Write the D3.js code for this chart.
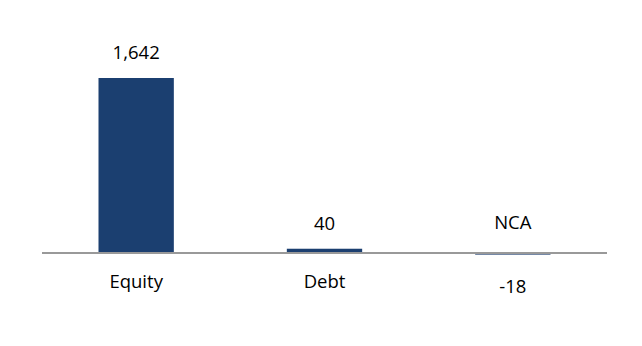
<!DOCTYPE html>
<html>
<head>
<meta charset="utf-8">
<script src="https://cdn.jsdelivr.net/npm/d3@7"></script>
<style>
  body { margin: 0; background: #fff; }
  text { font-family: "Open Sans", "Noto Sans", sans-serif; fill: #000; font-size: 18.5px; }
</style>
</head>
<body>
<div id="chart"></div>
<script>
// Data
var categories = ["Equity", "Debt", "NCA"];
var values = [1642, 40, -18];
var valueLabels = ["1,642", "40", "-18"];

var width = 642, height = 346;
var margin = {left: 42, right: 35};
var zeroY = 253;

var svg = d3.select("#chart").append("svg")
    .attr("width", width)
    .attr("height", height);

var x = d3.scaleBand()
    .domain(categories)
    .range([margin.left, width - margin.right])
    .paddingInner(0.6)
    .paddingOuter(0.3);

var y = d3.scaleLinear()
    .domain([0, 1642])
    .range([zeroY, 78]);

var data = categories.map(function(c, i) {
    return {cat: c, value: values[i], label: valueLabels[i]};
});

// Bars
svg.selectAll("rect.bar")
    .data(data)
    .enter().append("rect")
    .attr("class", "bar")
    .attr("x", function(d) { return x(d.cat); })
    .attr("width", x.bandwidth())
    .attr("y", function(d) { return Math.min(y(d.value), y(0)); })
    .attr("height", function(d) { return Math.max(Math.abs(y(d.value) - y(0)), 1.5); })
    .attr("fill", function(d) { return d.value < 0 ? "#6a7fa0" : "#1b3f70"; });

// Zero line
svg.append("line")
    .attr("x1", margin.left)
    .attr("x2", width - margin.right)
    .attr("y1", y(0))
    .attr("y2", y(0))
    .attr("stroke", "#999")
    .attr("stroke-width", 2);

// Value labels
svg.selectAll("text.value")
    .data(data)
    .enter().append("text")
    .attr("class", "value")
    .attr("text-anchor", "middle")
    .attr("x", function(d) { return x(d.cat) + x.bandwidth() / 2; })
    .attr("y", function(d) {
        return d.value >= 0 ? y(d.value) - 19 : y(d.value) + 38;
    })
    .text(function(d) { return d.label; });

// Category labels
svg.selectAll("text.cat")
    .data(data)
    .enter().append("text")
    .attr("class", "cat")
    .attr("text-anchor", "middle")
    .attr("x", function(d) { return x(d.cat) + x.bandwidth() / 2; })
    .attr("y", function(d) { return d.value >= 0 ? y(0) + 35 : y(0) - 24; })
    .text(function(d) { return d.cat; });
</script>
</body>
</html>
